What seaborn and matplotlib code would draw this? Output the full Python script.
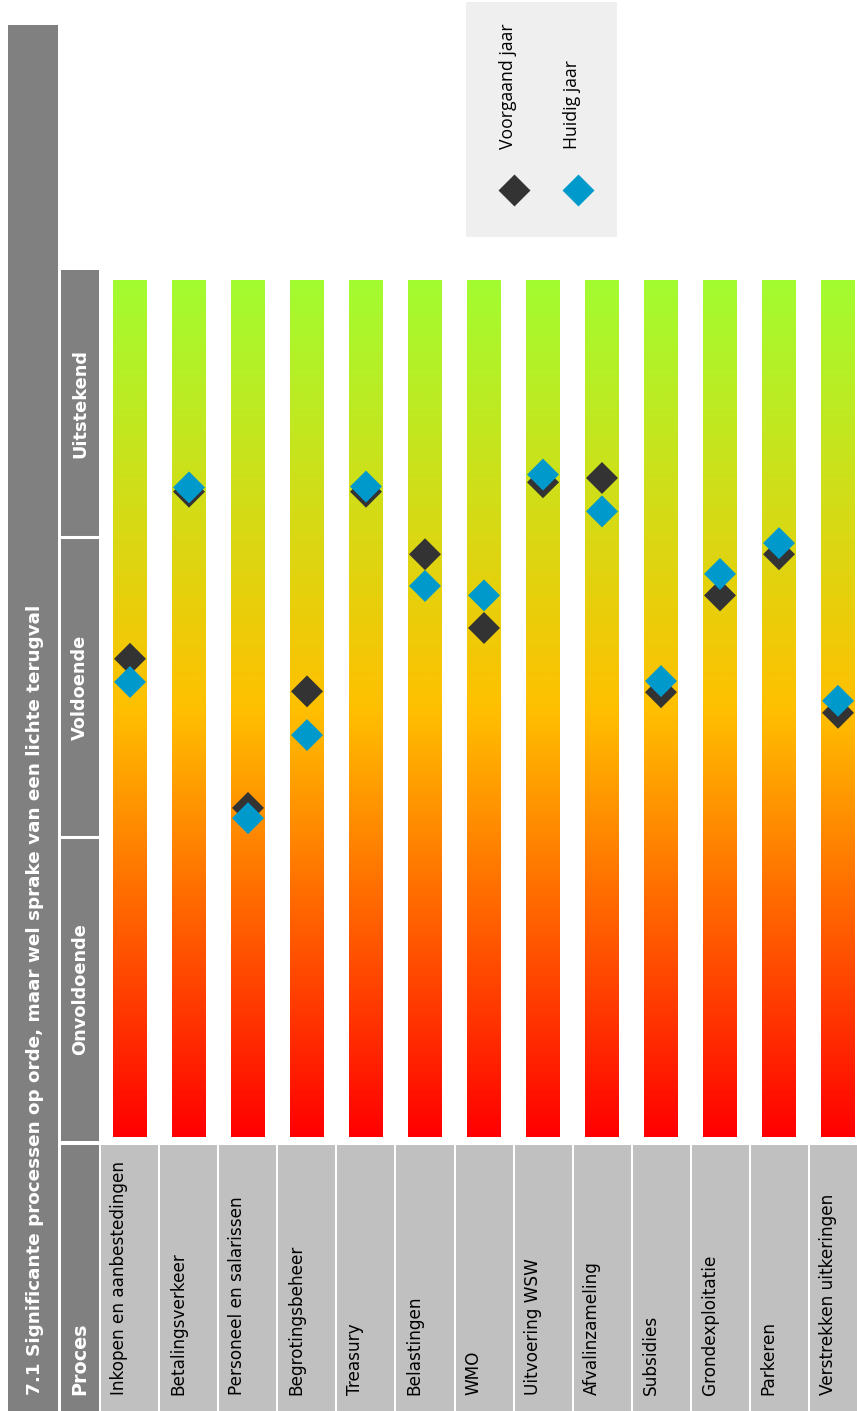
import numpy as np
import pandas as pd
import matplotlib
matplotlib.use("Agg")
import matplotlib.pyplot as plt
from matplotlib.colors import LinearSegmentedColormap
import seaborn as sns

# ---- data -------------------------------------------------------------
processen = [
    "Inkopen en aanbestedingen", "Betalingsverkeer", "Personeel en salarissen",
    "Begrotingsbeheer", "Treasury", "Belastingen", "WMO", "Uitvoering WSW",
    "Afvalinzameling", "Subsidies", "Grondexploitatie", "Parkeren",
    "Verstrekken uitkeringen",
]
# score on a 0-100 scale (0 = bottom of the bar, 100 = top)
voorgaand_jaar = [55.8, 75.3, 38.4, 52.0, 75.3, 68.0, 59.4, 76.4, 76.9, 51.9, 63.2, 68.0, 49.5]
huidig_jaar = [53.1, 75.8, 37.2, 46.9, 75.9, 64.3, 63.2, 77.3, 73.0, 53.2, 65.7, 69.3, 50.9]

oordelen = ["Onvoldoende", "Voldoende", "Uitstekend"]
grenzen = [35, 70]

reeksen = ["Voorgaand jaar", "Huidig jaar"]
kleuren = {"Voorgaand jaar": "#333333", "Huidig jaar": "#0099cc"}

titel = "7.1 Significante processen op orde, maar wel sprake van een lichte terugval"
kop_proces = "Proces"

df = pd.DataFrame({
    "proces": processen * 2,
    "score": voorgaand_jaar + huidig_jaar,
    "jaar": [reeksen[0]] * len(processen) + [reeksen[1]] * len(processen),
})

# ---- figure ------------------------------------------------------------
sns.set_theme(style="white")
plt.rcParams["font.family"] = ["DejaVu Sans"]

W, H = 857, 1411
fig = plt.figure(figsize=(W / 100, H / 100), dpi=100)
fig.patch.set_facecolor("white")


def px_axes(x0, y0, x1, y1, **kw):
    """Axes placed by pixel box (top-left origin)."""
    ax = fig.add_axes([x0 / W, 1 - y1 / H, (x1 - x0) / W, (y1 - y0) / H], **kw)
    return ax


def blank(ax, face):
    ax.set_facecolor(face)
    ax.set_xticks([]); ax.set_yticks([])
    for s in ax.spines.values():
        s.set_visible(False)


GRIJS = "#808080"
LICHTGRIJS = "#c0c0c0"

# score limits of the plotting area: bar runs 0..100
Y_LO, Y_HI = -0.467, 101.17
# category slots: 59 px wide, first centre 29 px in from the left edge
X_LO, X_HI = -0.4915, 12.322
BAR_HALF = 0.288

# title band
ax_t = px_axes(8, 25, 58, 1411)
blank(ax_t, GRIJS)
ax_t.text(0.54, 0.0115, titel, rotation=90, ha="center", va="bottom",
          color="white", fontsize=13.2, fontweight="bold", transform=ax_t.transAxes)

# main plotting area
ax = px_axes(101, 270, 857, 1141)
cmap = LinearSegmentedColormap.from_list(
    "oordeel", [(0.0, "#ff0000"), (0.5, "#ffc000"), (1.0, "#a2fc30")])
grad = np.linspace(0, 1, 512).reshape(-1, 1)
for i, _ in enumerate(processen):
    ax.imshow(grad, cmap=cmap, origin="lower", aspect="auto",
              extent=(i - BAR_HALF, i + BAR_HALF, 0, 100), zorder=1)

sns.scatterplot(data=df, x="proces", y="score", hue="jaar", palette=kleuren,
                marker="D", s=265, linewidth=0, legend=False, ax=ax, zorder=3)
ax.set_xlim(X_LO, X_HI)
ax.set_ylim(Y_LO, Y_HI)
ax.axis("off")

# rating header column
ax_h = px_axes(61, 270, 99, 1141)
blank(ax_h, GRIJS)
ax_h.set_ylim(Y_LO, Y_HI)
ax_h.set_xlim(0, 1)
for g in grenzen:
    ax_h.axhline(g, color="white", lw=2.2)
randen = [Y_LO] + grenzen + [Y_HI]
for naam, lo, hi in zip(oordelen, randen[:-1], randen[1:]):
    ax_h.text(0.5, (lo + hi) / 2, naam, rotation=90, ha="center", va="center",
              color="white", fontsize=12.8, fontweight="bold")

# "Proces" header cell
ax_p = px_axes(61, 1145, 99, 1411)
blank(ax_p, GRIJS)
ax_p.text(0.5, 16 / 266, kop_proces, rotation=90, ha="center", va="bottom",
          color="white", fontsize=13.8, fontweight="bold", transform=ax_p.transAxes)

# process label cells
ax_l = px_axes(101, 1145, 857, 1411)
ax_l.set_xlim(X_LO, X_HI)
ax_l.set_ylim(0, 266)
ax_l.invert_yaxis()
ax_l.bar(range(len(processen)), 266, width=1 - 2 / 59, color=LICHTGRIJS,
         align="center", linewidth=0)
for i, naam in enumerate(processen):
    ax_l.text(i - 0.5 + 19 / 59, 250, naam, rotation=90, ha="center", va="bottom",
              color="black", fontsize=12.2)
ax_l.axis("off")

# legend box
ax_g = px_axes(466, 2, 617, 237)
blank(ax_g, "#efefef")
ax_g.set_xlim(0, 151)
ax_g.set_ylim(235, 0)
for naam, xk in zip(reeksen, [48, 112]):
    ax_g.scatter([xk], [188], marker="D", s=265, color=kleuren[naam], linewidth=0)
    ax_g.text(xk - 6, 147, naam, rotation=90, ha="center", va="bottom",
              fontsize=12.7, family=["Open Sans", "DejaVu Sans"], color="black")

fig.savefig("out.png", dpi=100, facecolor="white")
